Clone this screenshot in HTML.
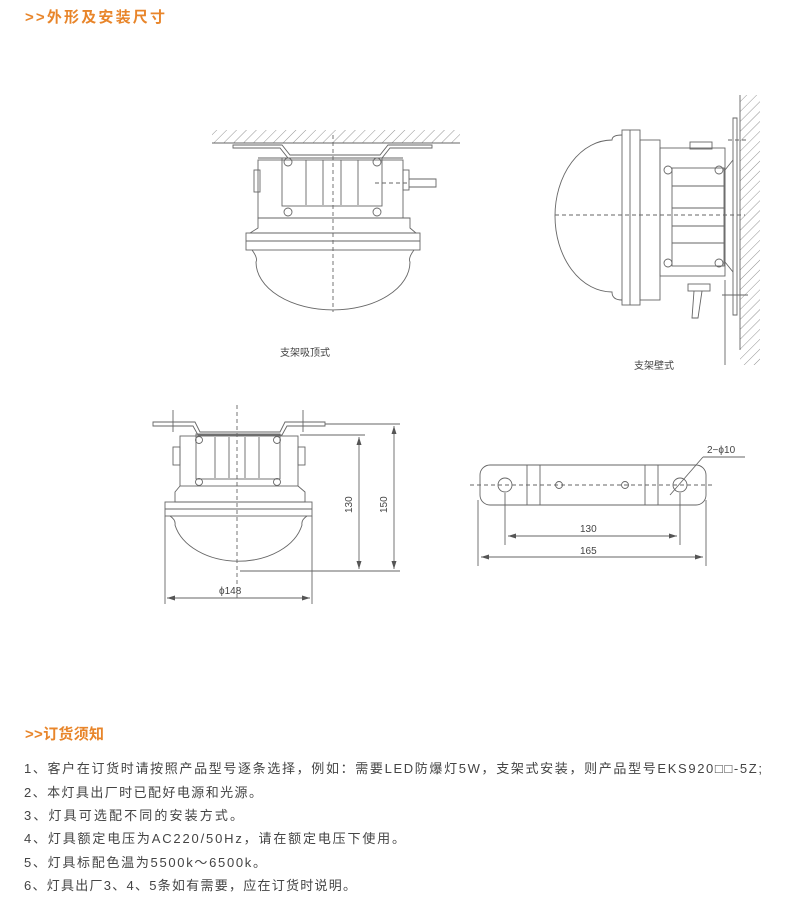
<!DOCTYPE html>
<html><head><meta charset="utf-8"><style>
html,body{margin:0;padding:0;background:#fff;}
svg{display:block;}
.t{font-family:"Liberation Sans","Noto Sans CJK SC",sans-serif;}
</style></head><body>
<svg width="800" height="900" viewBox="0 0 800 900" xmlns="http://www.w3.org/2000/svg" class="t">
<defs>
<pattern id="h" width="7" height="7" patternUnits="userSpaceOnUse" patternTransform="rotate(45)">
<line x1="0" y1="0" x2="0" y2="7" stroke="#777" stroke-width="0.8"/>
</pattern>
<marker id="a" markerWidth="8" markerHeight="6" refX="8" refY="3" orient="auto-start-reverse" markerUnits="userSpaceOnUse">
<path d="M0,0.5 L8,3 L0,5.5z" fill="#555"/></marker>
</defs>
<text x="25" y="22" font-size="15" font-weight="bold" fill="#e8852a" textLength="140">&gt;&gt;外形及安装尺寸</text>
<text x="25" y="739" font-size="15" font-weight="bold" fill="#e8852a" textLength="79">&gt;&gt;订货须知</text>

<g fill="none" stroke="#666" stroke-width="0.9">
<rect x="212" y="130" width="248" height="13" fill="url(#h)" stroke="none"/>
<line x1="212" y1="143" x2="460" y2="143"/>
<path d="M233,145 L282,145 L290,155 L380,155 L388,145 L432,145 L432,148 L390,148 L382,158 L288,158 L280,148 L233,148z"/>
<line x1="258" y1="158" x2="403" y2="158"/>
<rect x="258" y="160" width="145" height="58"/>
<rect x="282" y="158" width="100" height="48"/>
<line x1="306" y1="160" x2="306" y2="205"/><line x1="323" y1="160" x2="323" y2="205"/>
<line x1="341" y1="160" x2="341" y2="205"/><line x1="358" y1="160" x2="358" y2="205"/>
<circle cx="288" cy="162" r="4"/><circle cx="377" cy="162" r="4"/>
<circle cx="288" cy="212" r="4"/><circle cx="377" cy="212" r="4"/>
<rect x="254" y="170" width="6" height="22"/><rect x="403" y="170" width="6" height="20"/>
<path d="M409,179 L436,179 L436,187 L409,187"/>
<path d="M258,218 L258,228 L250,233 L416,233 L410,228 L410,218z"/>
<rect x="246" y="233" width="174" height="17"/>
<line x1="246" y1="241" x2="420" y2="241"/>
<path d="M252,250 Q258,258 256,262 A77,48 0 0 0 410,262 Q408,258 414,250"/>
<line x1="333" y1="135" x2="333" y2="312" stroke-dasharray="4,3"/>
<line x1="375" y1="183" x2="410" y2="183" stroke-dasharray="4,3"/>

<rect x="740" y="95" width="20" height="270" fill="url(#h)" stroke="none"/>
<line x1="740" y1="95" x2="740" y2="350"/>
<path d="M733,118 L737,118 L737,315 L733,315z"/>
<path d="M733,160 L725,170 L725,262 L733,272"/>
<rect x="622" y="130" width="18" height="175"/>
<line x1="630" y1="130" x2="630" y2="305"/>
<path d="M622,135 Q612,135 612,140 A57,76 0 0 0 612,292 Q612,300 622,300"/>
<rect x="640" y="140" width="20" height="160"/>
<rect x="660" y="148" width="65" height="128"/>
<rect x="672" y="168" width="52" height="98"/>
<line x1="672" y1="186" x2="724" y2="186"/><line x1="672" y1="208" x2="724" y2="208"/>
<line x1="672" y1="226" x2="724" y2="226"/><line x1="672" y1="243" x2="724" y2="243"/>
<circle cx="668" cy="170" r="4"/><circle cx="719" cy="170" r="4"/>
<circle cx="668" cy="263" r="4"/><circle cx="719" cy="263" r="4"/>
<rect x="690" y="142" width="22" height="7"/>
<rect x="688" y="284" width="22" height="7"/>
<path d="M694,291 L692,318 L698,318 L702,291"/>
<line x1="555" y1="215" x2="745" y2="215" stroke-dasharray="4,3"/>
<line x1="725" y1="280" x2="725" y2="365"/>
<line x1="728" y1="140" x2="748" y2="140" stroke-dasharray="4,3"/>
<line x1="722" y1="295" x2="748" y2="295"/>

<path d="M153,422 L195,422 L200,432 L280,432 L285,422 L325,422 L325,426 L287,426 L282,435 L198,435 L193,426 L153,426z"/>
<line x1="173" y1="410" x2="173" y2="432"/><line x1="303" y1="410" x2="303" y2="432"/>
<rect x="180" y="436" width="118" height="50"/>
<rect x="196" y="434" width="84" height="45"/>
<line x1="215" y1="437" x2="215" y2="478"/><line x1="229" y1="437" x2="229" y2="478"/>
<line x1="245" y1="437" x2="245" y2="478"/><line x1="259" y1="437" x2="259" y2="478"/>
<circle cx="199" cy="440" r="3.5"/><circle cx="277" cy="440" r="3.5"/>
<circle cx="199" cy="482" r="3.5"/><circle cx="277" cy="482" r="3.5"/>
<rect x="173" y="447" width="7" height="18"/><rect x="298" y="447" width="7" height="18"/>
<path d="M180,486 L175,492 L175,502 L305,502 L305,492 L298,486"/>
<rect x="165" y="502" width="147" height="14"/>
<line x1="165" y1="509" x2="312" y2="509"/>
<path d="M170,516 Q176,520 175,525 A65,46 0 0 0 302,525 Q301,520 307,516"/>
<line x1="237" y1="405" x2="237" y2="600" stroke-dasharray="4,3"/>
<line x1="240" y1="571" x2="400" y2="571"/>
<line x1="325" y1="424" x2="400" y2="424"/>
<line x1="300" y1="435" x2="365" y2="435"/>
<line x1="359" y1="437" x2="359" y2="569" marker-start="url(#a)" marker-end="url(#a)"/>
<line x1="394" y1="426" x2="394" y2="569" marker-start="url(#a)" marker-end="url(#a)"/>
<line x1="165" y1="516" x2="165" y2="604"/><line x1="312" y1="516" x2="312" y2="604"/>
<line x1="167" y1="598" x2="310" y2="598" marker-start="url(#a)" marker-end="url(#a)"/>

<rect x="480" y="465" width="226" height="40" rx="10"/>
<line x1="527" y1="465" x2="527" y2="505"/><line x1="540" y1="465" x2="540" y2="505"/>
<line x1="645" y1="465" x2="645" y2="505"/><line x1="658" y1="465" x2="658" y2="505"/>
<circle cx="505" cy="485" r="7"/><circle cx="680" cy="485" r="7"/>
<circle cx="559" cy="485" r="3.5"/><circle cx="625" cy="485" r="3.5"/>
<line x1="470" y1="485" x2="713" y2="485" stroke-dasharray="4,3"/>
<line x1="505" y1="493" x2="505" y2="545"/><line x1="680" y1="493" x2="680" y2="545"/>
<line x1="508" y1="536" x2="677" y2="536" marker-start="url(#a)" marker-end="url(#a)"/>
<line x1="478" y1="500" x2="478" y2="566"/><line x1="706" y1="500" x2="706" y2="566"/>
<line x1="481" y1="557" x2="703" y2="557" marker-start="url(#a)" marker-end="url(#a)"/>
<line x1="670" y1="495" x2="703" y2="457"/><line x1="703" y1="457" x2="745" y2="457"/>
</g>

<g font-size="10" fill="#444">
<text x="280" y="356">支架吸顶式</text>
<text x="634" y="369">支架壁式</text>
<text x="219" y="594">ϕ148</text>
<text transform="translate(352,513) rotate(-90)">130</text>
<text transform="translate(387,513) rotate(-90)">150</text>
<text x="580" y="532">130</text>
<text x="580" y="554">165</text>
<text x="707" y="453">2−ϕ10</text>
</g>

<g font-size="13" fill="#444">
<text x="24" y="773" textLength="738">1、客户在订货时请按照产品型号逐条选择，例如：需要LED防爆灯5W，支架式安装，则产品型号EKS920□□-5Z;</text>
<text x="24" y="797" textLength="238">2、本灯具出厂时已配好电源和光源。</text>
<text x="24" y="820" textLength="219">3、灯具可选配不同的安装方式。</text>
<text x="24" y="843" textLength="381">4、灯具额定电压为AC220/50Hz，请在额定电压下使用。</text>
<text x="24" y="867" textLength="242">5、灯具标配色温为5500k～6500k。</text>
<text x="24" y="890" textLength="332">6、灯具出厂3、4、5条如有需要，应在订货时说明。</text>
</g>
</svg>
</body></html>
